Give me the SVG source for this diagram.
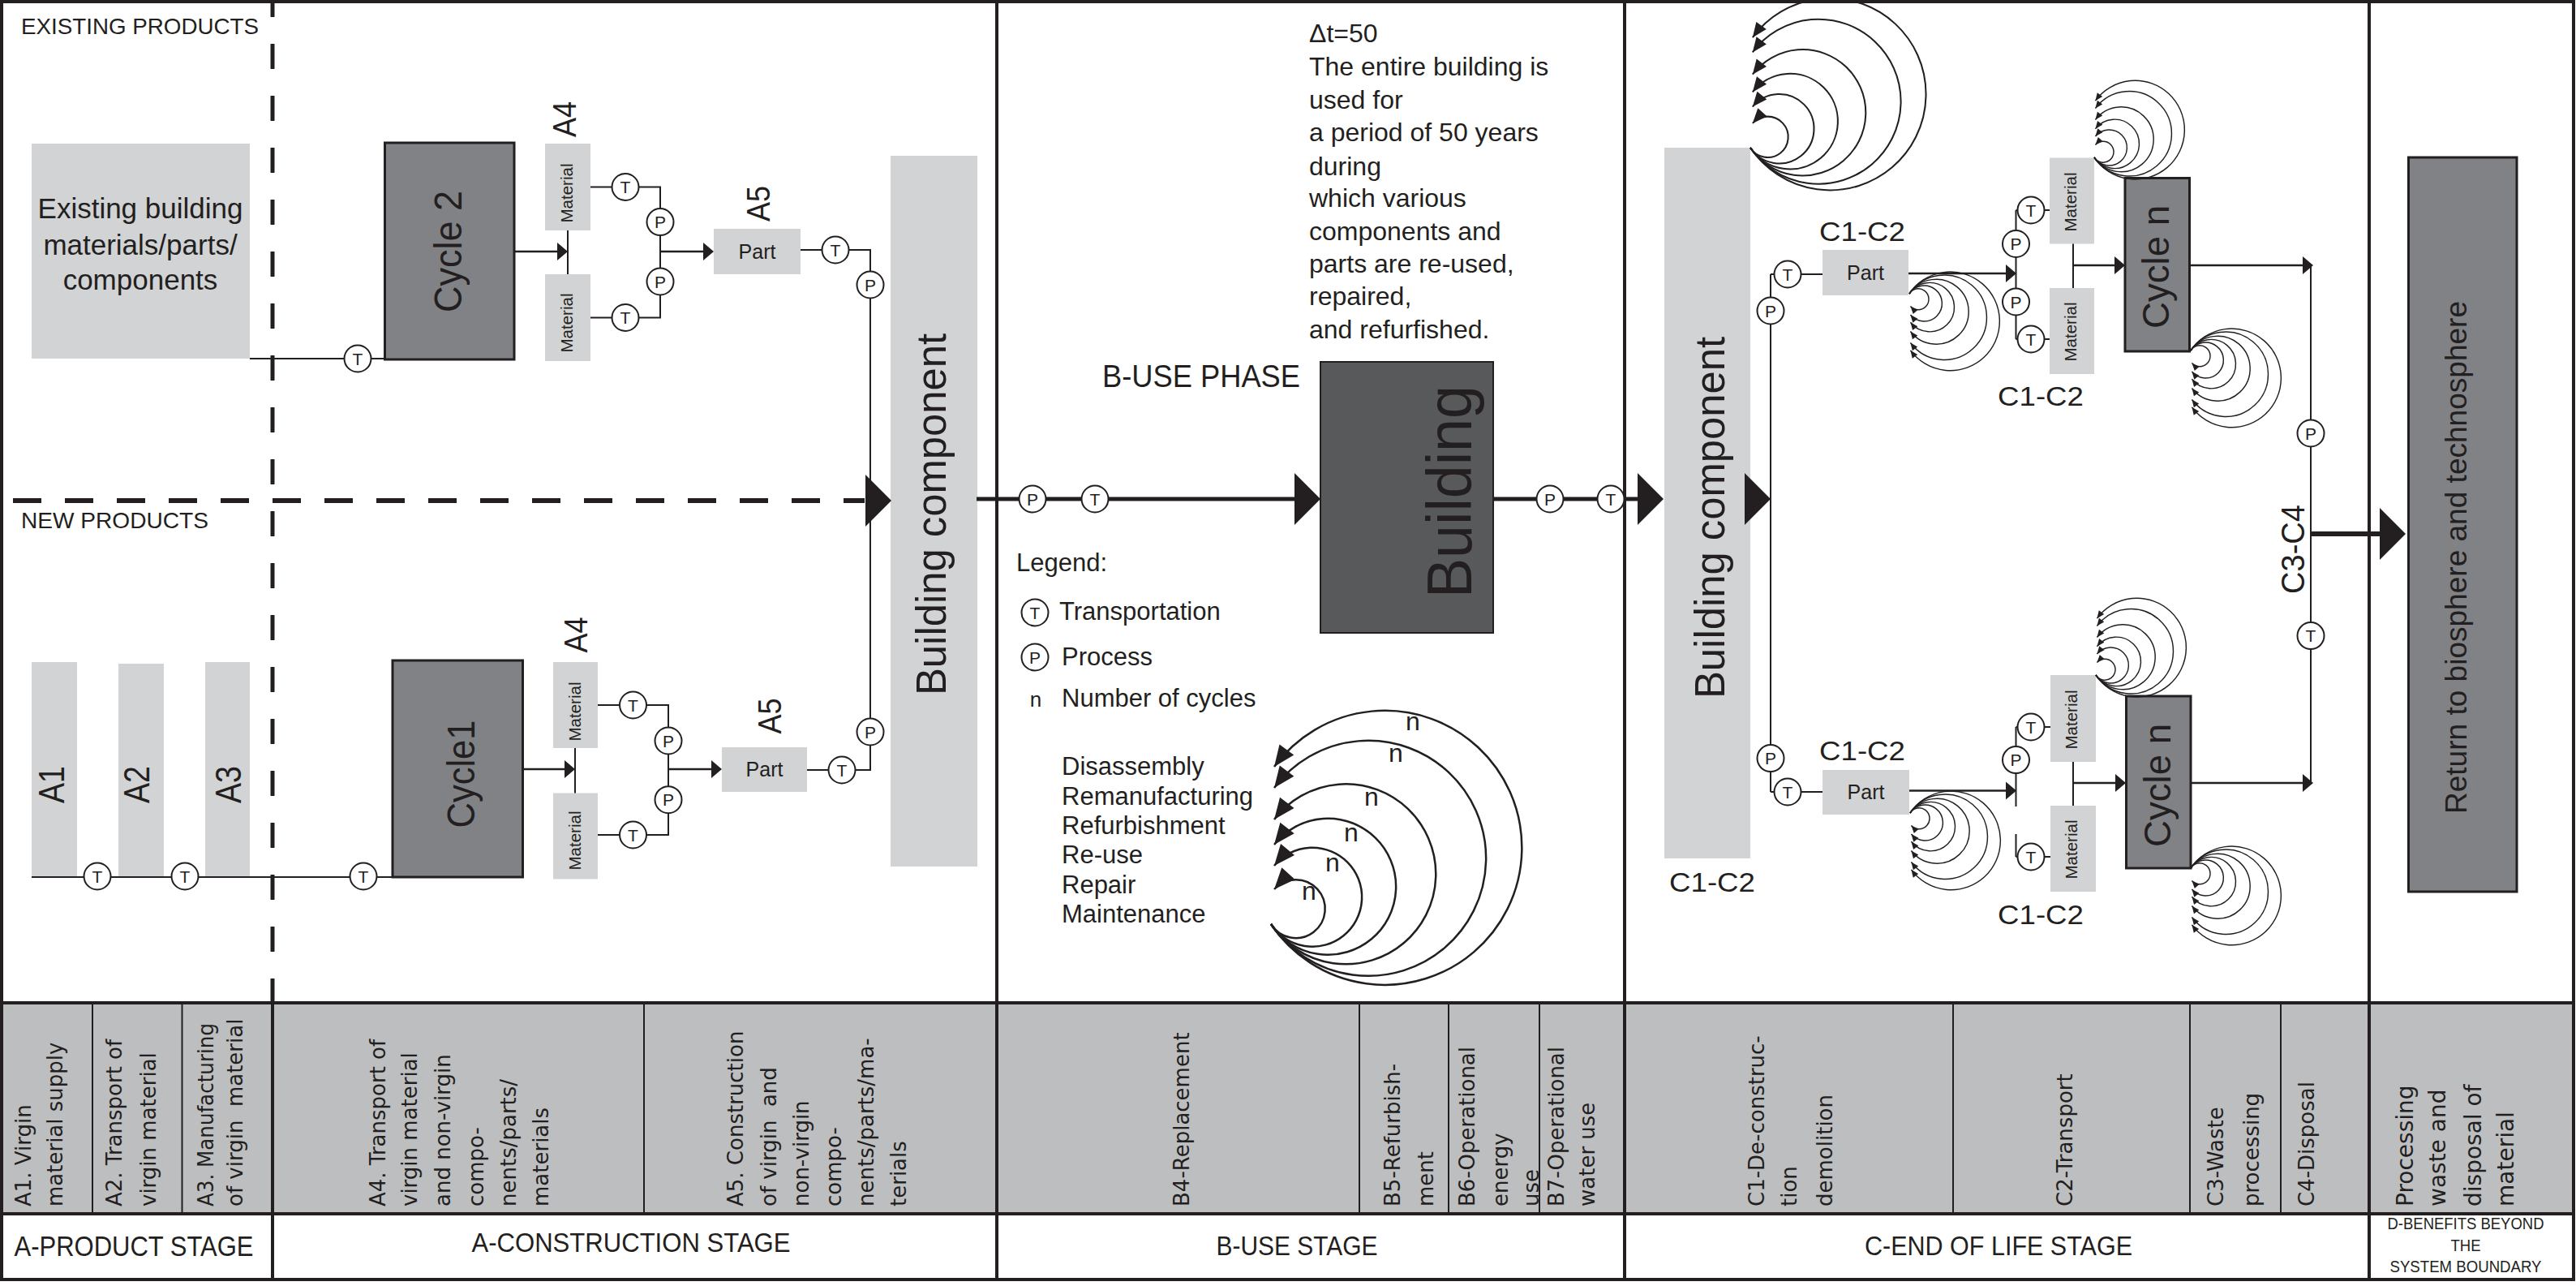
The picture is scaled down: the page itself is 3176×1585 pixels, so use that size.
<svg xmlns="http://www.w3.org/2000/svg" width="3176" height="1585" viewBox="0 0 3176 1585">
<style>
.frame{fill:none;stroke:#231f20;stroke-width:4}
.div{stroke:#231f20;stroke-width:4}
.sub{stroke:#231f20;stroke-width:2}
.ln{fill:none;stroke:#231f20;stroke-width:2}
.lnb{fill:none;stroke:#231f20;stroke-width:2.5}
.thick{fill:none;stroke:#231f20;stroke-width:5}
.light{fill:#d1d3d4}
.mid{fill:#808285;stroke:#231f20;stroke-width:3}
.dark{fill:#58595b;stroke:#231f20;stroke-width:2}
.tpc{fill:#fff;stroke:#231f20;stroke-width:2}
.tpt{font-family:"Liberation Sans",Arial,sans-serif;font-size:21px;text-anchor:middle;fill:#231f20}
.t{font-family:"Liberation Sans",Arial,sans-serif;fill:#231f20}
.tab{font-family:"DejaVu Sans",Verdana,sans-serif;font-size:26px;fill:#231f20}
.head{fill:#231f20}
.c{text-anchor:middle}
</style>
<defs>
<marker id="ah" markerUnits="userSpaceOnUse" viewBox="-30 -15 32 30" refX="0" refY="0" markerWidth="32" markerHeight="30" orient="auto">
<path d="M0,0 L-26,-11 L-26,11 Z" fill="#231f20"/>
</marker>
<g id="arcs" fill="none" stroke="#231f20">
<path d="M0,0 A169,169 0 1 0 4,-194" marker-end="url(#ah)"/>
<path d="M0,0 A145,145 0 1 0 4,-168" marker-end="url(#ah)"/>
<path d="M0,0 A111,111 0 1 0 4,-129" marker-end="url(#ah)"/>
<path d="M0,0 A84,84 0 1 0 4,-98" marker-end="url(#ah)"/>
<path d="M0,0 A61,61 0 1 0 4,-72" marker-end="url(#ah)"/>
<path d="M0,0 A36,36 0 1 0 4,-43" marker-end="url(#ah)"/>
</g>
<g id="Tc"><circle r="16.5" class="tpc"/><text y="7.5" class="tpt">T</text></g>
<g id="Pc"><circle r="16.5" class="tpc"/><text y="7.5" class="tpt">P</text></g>
<path id="sa" d="M0,0 L-13,-11 L-13,11 Z" class="head"/>
<path id="ba" d="M0,0 L-32,-32 L-32,32 Z" class="head"/>
</defs>

<rect x="0" y="0" width="3176" height="1585" fill="#fff"/>

<!-- table -->
<g id="table">
<rect x="2" y="1236" width="3171" height="260" fill="#bcbec0"/>
<line class="div" x1="2" y1="1236" x2="3173" y2="1236"/>
<line class="div" x1="2" y1="1496" x2="3173" y2="1496"/>
<line class="div" x1="336" y1="1236" x2="336" y2="1577"/>
<g class="sub">
<line x1="114" y1="1236" x2="114" y2="1496"/>
<line x1="224.5" y1="1236" x2="224.5" y2="1496"/>
<line x1="794" y1="1236" x2="794" y2="1496"/>
<line x1="1676" y1="1236" x2="1676" y2="1496"/>
<line x1="1786" y1="1236" x2="1786" y2="1496"/>
<line x1="1898" y1="1236" x2="1898" y2="1496"/>
<line x1="2408" y1="1236" x2="2408" y2="1496"/>
<line x1="2700" y1="1236" x2="2700" y2="1496"/>
<line x1="2812" y1="1236" x2="2812" y2="1496"/>
</g>
<g class="tab">
<text transform="translate(38,1487) rotate(-90)">A1. Virgin</text>
<text transform="translate(77,1487) rotate(-90)">material supply</text>
<text transform="translate(150,1487) rotate(-90)">A2. Transport of</text>
<text transform="translate(192,1487) rotate(-90)">virgin material</text>
<text transform="translate(263,1487) rotate(-90)" textLength="226" lengthAdjust="spacingAndGlyphs">A3. Manufacturing</text>
<text transform="translate(299,1487) rotate(-90)" xml:space="preserve">of virgin  material</text>
<text transform="translate(475,1487) rotate(-90)">A4. Transport of</text>
<text transform="translate(514,1487) rotate(-90)">virgin material</text>
<text transform="translate(555,1487) rotate(-90)">and non-virgin</text>
<text transform="translate(596,1487) rotate(-90)">compo-</text>
<text transform="translate(636,1487) rotate(-90)">nents/parts/</text>
<text transform="translate(676,1487) rotate(-90)">materials</text>
<text transform="translate(916,1487) rotate(-90)">A5. Construction</text>
<text transform="translate(957,1487) rotate(-90)" xml:space="preserve">of virgin  and</text>
<text transform="translate(997,1487) rotate(-90)">non-virgin</text>
<text transform="translate(1037,1487) rotate(-90)">compo-</text>
<text transform="translate(1077,1487) rotate(-90)">nents/parts/ma-</text>
<text transform="translate(1117,1487) rotate(-90)">terials</text>
<text transform="translate(1466,1487) rotate(-90)">B4-Replacement</text>
<text transform="translate(1726,1487) rotate(-90)">B5-Refurbish-</text>
<text transform="translate(1767,1487) rotate(-90)">ment</text>
<text transform="translate(1818,1487) rotate(-90)">B6-Operational</text>
<text transform="translate(1859,1487) rotate(-90)">energy</text>
<text transform="translate(1897,1487) rotate(-90)">use</text>
<text transform="translate(1928,1487) rotate(-90)">B7-Operational</text>
<text transform="translate(1966,1487) rotate(-90)">water use</text>
<text transform="translate(2175,1487) rotate(-90)">C1-De-construc-</text>
<text transform="translate(2215,1487) rotate(-90)">tion</text>
<text transform="translate(2259,1487) rotate(-90)">demolition</text>
<text transform="translate(2555,1487) rotate(-90)">C2-Transport</text>
<text transform="translate(2741,1487) rotate(-90)">C3-Waste</text>
<text transform="translate(2785,1487) rotate(-90)">processing</text>
<text transform="translate(2853,1487) rotate(-90)">C4-Disposal</text>
<g font-size="28">
<text transform="translate(2975,1487) rotate(-90)">Processing</text>
<text transform="translate(3015,1487) rotate(-90)">waste and</text>
<text transform="translate(3059,1487) rotate(-90)">disposal of</text>
<text transform="translate(3099,1487) rotate(-90)">material</text>
</g>
</g>
<g class="t c">
<text x="165" y="1548" font-size="35" textLength="295" lengthAdjust="spacingAndGlyphs">A-PRODUCT STAGE</text>
<text x="778" y="1543" font-size="34" textLength="393" lengthAdjust="spacingAndGlyphs">A-CONSTRUCTION STAGE</text>
<text x="1599" y="1547" font-size="34" textLength="199" lengthAdjust="spacingAndGlyphs">B-USE STAGE</text>
<text x="2464" y="1547" font-size="34" textLength="330" lengthAdjust="spacingAndGlyphs">C-END OF LIFE STAGE</text>
<text x="3040" y="1515" font-size="21" textLength="193" lengthAdjust="spacingAndGlyphs">D-BENEFITS BEYOND</text>
<text x="3040" y="1542" font-size="21" textLength="37" lengthAdjust="spacingAndGlyphs">THE</text>
<text x="3040" y="1568" font-size="21" textLength="187" lengthAdjust="spacingAndGlyphs">SYSTEM BOUNDARY</text>
</g>
</g>

<!-- frame and section dividers -->
<g id="frame">
<rect class="frame" x="2" y="2" width="3171" height="1575"/>
<line class="div" x1="1229" y1="2" x2="1229" y2="1577"/>
<line class="div" x1="2003" y1="2" x2="2003" y2="1577"/>
<line class="div" x1="2921" y1="2" x2="2921" y2="1577"/>
<line x1="336" y1="-10" x2="336" y2="1236" stroke="#231f20" stroke-width="5" stroke-dasharray="31 33"/>
</g>

<!-- nodes -->
<g id="existing">
<rect class="light" x="39" y="177" width="269" height="265"/>
<text class="t c" font-size="35"><tspan x="173" y="269">Existing building</tspan><tspan x="173" y="314">materials/parts/</tspan><tspan x="173" y="357">components</tspan></text>
</g>
<g class="t c" font-size="44">
<g id="a1"><rect class="light" x="39" y="816" width="56" height="265"/><text transform="translate(79,967) rotate(-90)" textLength="46" lengthAdjust="spacingAndGlyphs">A1</text></g>
<g id="a2"><rect class="light" x="146" y="818" width="56" height="263"/><text transform="translate(183.5,967) rotate(-90)" textLength="46" lengthAdjust="spacingAndGlyphs">A2</text></g>
<g id="a3"><rect class="light" x="253" y="816" width="55" height="265"/><text transform="translate(296.5,967) rotate(-90)" textLength="46" lengthAdjust="spacingAndGlyphs">A3</text></g>
</g>

<g id="cycle2">
<rect class="mid" x="474.5" y="176" width="159.5" height="267"/>
<text class="t c" font-size="48" textLength="150" lengthAdjust="spacingAndGlyphs" transform="translate(569,310) rotate(-90)">Cycle 2</text>
</g>
<g id="cycle1">
<rect class="mid" x="484" y="814" width="160.5" height="267"/>
<text class="t c" font-size="48" textLength="133" lengthAdjust="spacingAndGlyphs" transform="translate(585,954) rotate(-90)">Cycle1</text>
</g>

<g class="t c" font-size="20">
<g id="mat-a4-1"><rect class="light" x="672" y="177" width="56" height="107"/><text transform="translate(706,238) rotate(-90)" textLength="73" lengthAdjust="spacingAndGlyphs">Material</text></g>
<g id="mat-a4-2"><rect class="light" x="672" y="338" width="56" height="107"/><text transform="translate(706,398) rotate(-90)" textLength="73" lengthAdjust="spacingAndGlyphs">Material</text></g>
<g id="mat-a4-3"><rect class="light" x="682" y="816" width="55" height="106"/><text transform="translate(716,877) rotate(-90)" textLength="73" lengthAdjust="spacingAndGlyphs">Material</text></g>
<g id="mat-a4-4"><rect class="light" x="682" y="977.5" width="55" height="106"/><text transform="translate(716,1036) rotate(-90)" textLength="73" lengthAdjust="spacingAndGlyphs">Material</text></g>
<g id="mat-c-1"><rect class="light" x="2527" y="194.5" width="55" height="106"/><text transform="translate(2560,249) rotate(-90)" textLength="73" lengthAdjust="spacingAndGlyphs">Material</text></g>
<g id="mat-c-2"><rect class="light" x="2527" y="355" width="55" height="106"/><text transform="translate(2560,409) rotate(-90)" textLength="73" lengthAdjust="spacingAndGlyphs">Material</text></g>
<g id="mat-c-3"><rect class="light" x="2528" y="832" width="56" height="107"/><text transform="translate(2561,887) rotate(-90)" textLength="73" lengthAdjust="spacingAndGlyphs">Material</text></g>
<g id="mat-c-4"><rect class="light" x="2528" y="993" width="56" height="106"/><text transform="translate(2561,1047) rotate(-90)" textLength="73" lengthAdjust="spacingAndGlyphs">Material</text></g>
</g>

<g class="t c" font-size="25">
<g id="part-a5-1"><rect class="light" x="880" y="282" width="107" height="56"/><text x="933.5" y="319">Part</text></g>
<g id="part-a5-2"><rect class="light" x="890" y="921" width="105" height="55"/><text x="942.5" y="957">Part</text></g>
<g id="part-c-1"><rect class="light" x="2247" y="308" width="106" height="56"/><text x="2300" y="345">Part</text></g>
<g id="part-c-2"><rect class="light" x="2247" y="949" width="107" height="55"/><text x="2300.5" y="985">Part</text></g>
</g>

<g id="bc-left">
<rect class="light" x="1098" y="192" width="107" height="876"/>
<text class="t c" font-size="52" textLength="446" lengthAdjust="spacingAndGlyphs" transform="translate(1166,634) rotate(-90)">Building component</text>
</g>
<g id="building">
<rect class="dark" x="1628" y="446" width="213" height="334"/>
<text class="t c" font-size="78" textLength="262" lengthAdjust="spacingAndGlyphs" transform="translate(1814,606) rotate(-90)">Building</text>
</g>
<g id="bc-right">
<rect class="light" x="2052" y="182" width="106" height="876"/>
<text class="t c" font-size="52" textLength="446" lengthAdjust="spacingAndGlyphs" transform="translate(2126,638) rotate(-90)">Building component</text>
</g>
<g id="cyclen-1">
<rect class="mid" x="2620" y="219.5" width="79.5" height="213.5"/>
<text class="t c" font-size="46" textLength="152" lengthAdjust="spacingAndGlyphs" transform="translate(2674,329) rotate(-90)">Cycle n</text>
</g>
<g id="cyclen-2">
<rect class="mid" x="2621.5" y="858" width="79.5" height="212"/>
<text class="t c" font-size="46" textLength="152" lengthAdjust="spacingAndGlyphs" transform="translate(2676,968) rotate(-90)">Cycle n</text>
</g>
<g id="return">
<rect class="mid" x="2969.5" y="194" width="133.5" height="905"/>
<text class="t c" font-size="37" textLength="632" lengthAdjust="spacingAndGlyphs" transform="translate(3041,687) rotate(-90)">Return to biosphere and technosphere</text>
</g>

<!-- headings and free text -->
<g id="labels" class="t">
<text x="26" y="41.5" font-size="28" textLength="293" lengthAdjust="spacingAndGlyphs">EXISTING PRODUCTS</text>
<text x="26" y="651" font-size="28" textLength="231" lengthAdjust="spacingAndGlyphs">NEW PRODUCTS</text>
<text x="1359" y="476.5" font-size="38" textLength="244" lengthAdjust="spacingAndGlyphs">B-USE PHASE</text>
<text font-size="32">
<tspan x="1614" y="52">Δt=50</tspan>
<tspan x="1614" y="93">The entire building is</tspan>
<tspan x="1614" y="133.6">used for</tspan>
<tspan x="1614" y="174">a period of 50 years</tspan>
<tspan x="1614" y="215.5">during</tspan>
<tspan x="1614" y="255">which various</tspan>
<tspan x="1614" y="296">components and</tspan>
<tspan x="1614" y="336">parts are re-used,</tspan>
<tspan x="1614" y="376.4">repaired,</tspan>
<tspan x="1614" y="417">and refurfished.</tspan>
</text>
<g font-size="40" class="c">
<text transform="translate(710,147) rotate(-90)" textLength="44" lengthAdjust="spacingAndGlyphs">A4</text>
<text transform="translate(949,251) rotate(-90)" textLength="44" lengthAdjust="spacingAndGlyphs">A5</text>
<text transform="translate(724,782.5) rotate(-90)" textLength="44" lengthAdjust="spacingAndGlyphs">A4</text>
<text transform="translate(963,882.5) rotate(-90)" textLength="44" lengthAdjust="spacingAndGlyphs">A5</text>
<text transform="translate(2841,677) rotate(-90)" textLength="110" lengthAdjust="spacingAndGlyphs">C3-C4</text>
</g>
<g font-size="33">
<text x="2243" y="296.5" textLength="106" lengthAdjust="spacingAndGlyphs">C1-C2</text>
<text x="2463" y="500" textLength="106" lengthAdjust="spacingAndGlyphs">C1-C2</text>
<text x="2243" y="936.6" textLength="106" lengthAdjust="spacingAndGlyphs">C1-C2</text>
<text x="2463" y="1138.6" textLength="106" lengthAdjust="spacingAndGlyphs">C1-C2</text>
<text x="2058" y="1098.6" textLength="106" lengthAdjust="spacingAndGlyphs">C1-C2</text>
</g>
</g>

<!-- connectors -->
<g id="connectors">
<line x1="16" y1="617" x2="1066" y2="617" stroke="#231f20" stroke-width="6" stroke-dasharray="35 29"/>
<use href="#ba" x="1099" y="617"/>
<g class="ln">
<path d="M308,442 H474.5"/>
<path d="M700,284 V338"/>
<path d="M728,230.5 H814 V391.5 H728"/>
<path d="M987,308 H1073 V949 H995"/>
<path d="M39,1081 H484"/>
<path d="M709,922 V977.5"/>
<path d="M737,869 H824 V1029 H737"/>
<path d="M2183,338 V976 M2183,338 H2247 M2183,976 H2247"/>
<path d="M2485.5,259 V418 M2485.5,259 H2527 M2485.5,418 H2527"/>
<path d="M2556,300.5 V355"/>
<path d="M2849,327 V965"/>
<path d="M2485.5,896 V994 M2485.5,1028 V1056 M2485.5,896 H2528 M2485.5,1056 H2528"/>
<path d="M2556,939 V993"/>
</g>
<g class="lnb">
<path d="M634,310 H688"/>
<path d="M814,310 H868"/>
<path d="M644.5,948 H697"/>
<path d="M824,948 H878"/>
<path d="M2353,337 H2474"/>
<path d="M2556,327 H2609"/>
<path d="M2699.5,327 H2840"/>
<path d="M2701,965 H2840"/>
<path d="M2354,974.5 H2474"/>
<path d="M2556,965 H2610"/>
</g>
<use href="#sa" x="700" y="310"/>
<use href="#sa" x="880" y="310"/>
<use href="#sa" x="709" y="948"/>
<use href="#sa" x="890" y="948"/>
<use href="#sa" x="2486" y="337"/>
<use href="#sa" x="2620" y="327"/>
<use href="#sa" x="2852" y="327"/>
<use href="#sa" x="2852" y="965"/>
<use href="#sa" x="2486" y="974.5"/>
<use href="#sa" x="2621" y="965"/>
<path class="thick" d="M1204,615 H1597"/>
<path class="thick" d="M1841,615 H2021"/>
<path d="M2849,658 H2936" fill="none" stroke="#231f20" stroke-width="6"/>
<use href="#ba" x="1628" y="615"/>
<use href="#ba" x="2051" y="615"/>
<use href="#ba" x="2183" y="615"/>
<use href="#ba" x="2966" y="658"/>
<!-- cycle loops -->
<use href="#arcs" transform="translate(2158,182) scale(0.7)" stroke-width="2.9"/>
<use href="#arcs" transform="translate(2354,362) scale(0.36,-0.36)" stroke-width="4"/>
<use href="#arcs" transform="translate(2582,194) scale(0.36)" stroke-width="4"/>
<use href="#arcs" transform="translate(2701,432) scale(0.36,-0.36)" stroke-width="4"/>
<use href="#arcs" transform="translate(2584,832) scale(0.36)" stroke-width="4"/>
<use href="#arcs" transform="translate(2355,1002) scale(0.36,-0.36)" stroke-width="4"/>
<use href="#arcs" transform="translate(2701,1070) scale(0.36,-0.36)" stroke-width="4"/>
</g>

<!-- transport / process markers -->
<g id="tp-markers">
<use href="#Tc" x="441" y="442"/>
<use href="#Tc" x="771" y="230.5"/>
<use href="#Pc" x="814" y="273.6"/>
<use href="#Pc" x="814" y="347"/>
<use href="#Tc" x="771" y="391.5"/>
<use href="#Tc" x="1030" y="308"/>
<use href="#Pc" x="1073" y="351"/>
<use href="#Tc" x="120" y="1080"/>
<use href="#Tc" x="228" y="1080"/>
<use href="#Tc" x="448" y="1080"/>
<use href="#Tc" x="780.5" y="869"/>
<use href="#Pc" x="824" y="913"/>
<use href="#Pc" x="824" y="985.7"/>
<use href="#Tc" x="780.5" y="1029"/>
<use href="#Tc" x="1038" y="949"/>
<use href="#Pc" x="1073" y="902"/>
<use href="#Pc" x="1273" y="615"/>
<use href="#Tc" x="1350" y="615"/>
<use href="#Pc" x="1911" y="615"/>
<use href="#Tc" x="1986" y="615"/>
<use href="#Tc" x="2204" y="338"/>
<use href="#Pc" x="2183" y="383"/>
<use href="#Tc" x="2504" y="259"/>
<use href="#Pc" x="2485.5" y="300.5"/>
<use href="#Pc" x="2485.5" y="372"/>
<use href="#Tc" x="2504" y="418"/>
<use href="#Pc" x="2849" y="534"/>
<use href="#Tc" x="2849" y="783.6"/>
<use href="#Pc" x="2183" y="934.6"/>
<use href="#Tc" x="2204" y="976"/>
<use href="#Tc" x="2504" y="896"/>
<use href="#Pc" x="2485.5" y="936.6"/>
<use href="#Tc" x="2504" y="1056"/>
</g>

<!-- legend -->
<g id="legend" class="t" font-size="31">
<text x="1253" y="704">Legend:</text>
<use href="#Tc" x="1276" y="755"/>
<text x="1306" y="764">Transportation</text>
<use href="#Pc" x="1276" y="810"/>
<text x="1309" y="820">Process</text>
<text x="1277" y="871" font-size="26" class="c">n</text>
<text x="1309" y="871">Number of cycles</text>
<text x="1309" y="955">Disassembly</text>
<text x="1309" y="991.7">Remanufacturing</text>
<text x="1309" y="1028">Refurbishment</text>
<text x="1309" y="1064">Re-use</text>
<text x="1309" y="1101">Repair</text>
<text x="1309" y="1136.5">Maintenance</text>
<use href="#arcs" transform="translate(1567,1139)" stroke-width="2.5"/>
<g font-size="32" class="c">
<text x="1742" y="900">n</text>
<text x="1721" y="938.6">n</text>
<text x="1691" y="992.5">n</text>
<text x="1666" y="1036.6">n</text>
<text x="1643" y="1074">n</text>
<text x="1614" y="1109">n</text>
</g>
</g>
</svg>
